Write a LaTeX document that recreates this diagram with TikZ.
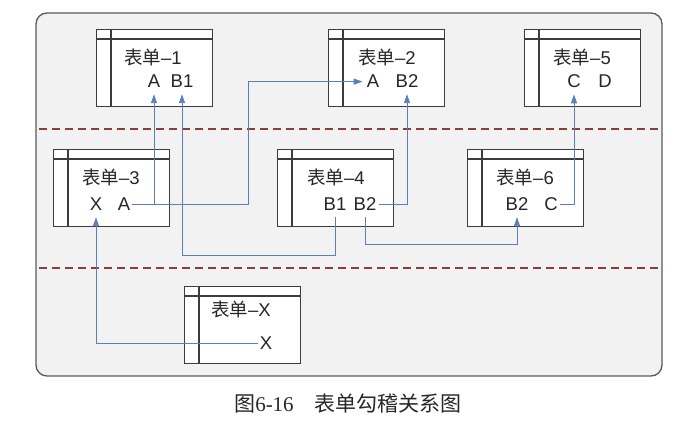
\documentclass[tikz,border=0pt]{standalone}
\usepackage{fontspec}
\setmainfont{Liberation Sans}
\newfontfamily\cjk{Noto Sans CJK SC}
\newfontfamily\capserif{Liberation Serif}
\usetikzlibrary{arrows.meta}

\definecolor{panelfill}{HTML}{F2F2F2}
\definecolor{panelline}{HTML}{5A5A5A}
\definecolor{boxline}{HTML}{3C3C3C}
\definecolor{zoneline}{HTML}{8E3B3B}
\definecolor{linkblue}{HTML}{5B7FB8}
\definecolor{labelgray}{HTML}{262626}

\tikzset{
  form/.style={draw=boxline, fill=white, line width=1.1pt, minimum width=116pt,
    minimum height=77pt, inner sep=0pt, anchor=north west},
  formrule/.style={draw=boxline, line width=1.1pt},
  ftitle/.style={font=\fontsize{18.5}{22}\selectfont, text=labelgray, anchor=base, inner sep=0pt},
  field/.style={font=\fontsize{18.5}{22}\selectfont, text=labelgray, anchor=base,
    inner xsep=2pt, inner ysep=6pt},
  link/.style={draw=linkblue, line width=0.9pt},
  tip/.style={-{Triangle[length=9pt,width=6pt]}},
  zone/.style={draw=zoneline, line width=2.2pt, dash pattern=on 8pt off 5pt}
}

% a form table: outer frame, header rule and left margin rule
\newcommand\formtable[3]{%
  \node[form] (#1) at (#2,#3) {};
  \draw[formrule] ([yshift=-10pt]#1.north west) -- ([yshift=-10pt]#1.north east);
  \draw[formrule] ([xshift=15pt]#1.north west) -- ([xshift=15pt]#1.south west);
}
\newcommand\formname[1]{{\cjk 表单}--#1}

\begin{document}
\begin{tikzpicture}[x=1pt,y=-1pt]
  \useasboundingbox (0,0) rectangle (694,427);

  % panel and zone separators
  \draw[draw=panelline, fill=panelfill, line width=1.3pt, rounded corners=11pt]
    (36,13) rectangle (662,376);
  \coordinate (zaL) at (39,129);
  \coordinate (zaR) at (658,129);
  \coordinate (zbL) at (39,268);
  \coordinate (zbR) at (658,268);
  \draw[zone] (zaL) -- (zaR);
  \draw[zone] (zbL) -- (zbR);

  % form tables
  \formtable{form1}{96}{29}
  \formtable{form2}{328}{29}
  \formtable{form5}{524}{29}
  \formtable{form3}{53}{149}
  \formtable{form4}{277}{149}
  \formtable{form6}{467}{149}
  \formtable{formX}{184}{286}

  % titles and fields
  \node[ftitle] (t1) at (153,65) {\formname{1}};
  \node[field] (f1a) at (154,88) {A};
  \node[field] (f1b) at (182,88) {B1};

  \node[ftitle] (t2) at (387,65) {\formname{2}};
  \node[field] (f2a) at (373,88) {A};
  \node[field] (f2b) at (407,88) {B2};

  \node[ftitle] (t5) at (582,65) {\formname{5}};
  \node[field] (f5c) at (574,88) {C};
  \node[field] (f5d) at (605,88) {D};

  \node[ftitle] (t3) at (111,185) {\formname{3}};
  \node[field] (f3x) at (96,211) {X};
  \node[field] (f3a) at (124,211) {A};

  \node[ftitle] (t4) at (336,185) {\formname{4}};
  \node[field] (f4b1) at (335,211) {B1};
  \node[field] (f4b2) at (365,211) {B2};

  \node[ftitle] (t6) at (525,185) {\formname{6}};
  \node[field] (f6b) at (517,211) {B2};
  \node[field] (f6c) at (551,211) {C};

  \node[ftitle] (tX) at (241,317) {\formname{X}};
  \node[field] (fXx) at (266,350) {X};

  % bend points
  \coordinate (jA) at (248,0);
  \coordinate (jB) at (182,255);
  \coordinate (jC) at (365,244);

  % links between fields
  \draw[link,tip] (f3a.east) -| (f1a.south);
  \draw[link,tip,shorten >=2pt] (f3a.east) -- (f3a.east -| jA) |- (f2a.west);
  \draw[link,tip] (f4b1.south) |- (jB) -- (f1b.south);
  \draw[link,tip] (f4b2.east) -| (f2b.south);
  \draw[link,tip] (f4b2.south) -- (jC) -| (f6b.south);
  \draw[link,tip] (f6c.east) -| (f5c.south);
  \draw[link,tip] (fXx.west) -| (f3x.south);

  % caption
  \node[anchor=base, inner sep=0pt, text=labelgray, font=\fontsize{21}{24}\selectfont]
    (caption) at (348,412) {{\cjk 图}{\capserif 6-16}\hspace{1em}{\cjk 表单勾稽关系图}};
\end{tikzpicture}
\end{document}
